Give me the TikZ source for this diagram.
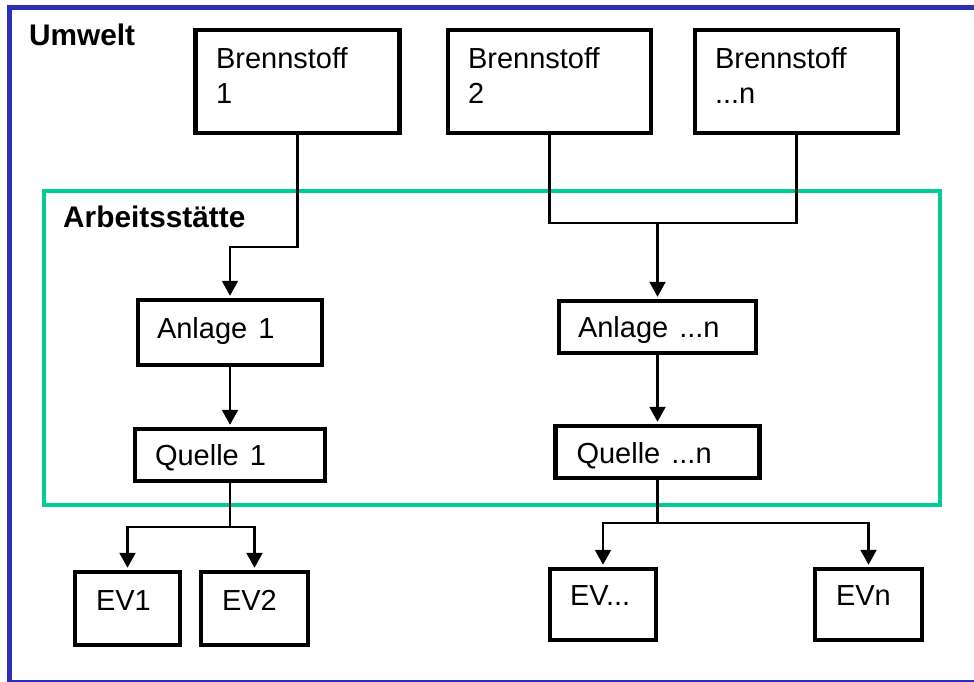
\documentclass[tikz,border=0pt]{standalone}
\usepackage{fontspec}
\setmainfont{Liberation Sans}
\usetikzlibrary{calc, positioning, arrows.meta}
\definecolor{UmweltBlue}{RGB}{46, 46, 184}
\definecolor{SiteGreen}{RGB}{0, 204, 153}
\definecolor{InkBlack}{RGB}{0, 0, 0}

\tikzset{
  block/.style={draw=InkBlack, fill=white, line width=4.5pt, align=left, inner ysep=0pt,
    font=\fontsize{29}{35}\selectfont},
  dims/.style n args={4}{text width=#1, inner xsep=#2, text height=#3, text depth=#4},
  flow/.style={draw=InkBlack, line width=2.2pt, -{Triangle[length=15pt,width=16pt]}, shorten >=2pt},
  link/.style={draw=InkBlack, line width=2.2pt},
  area/.style={font=\bfseries\fontsize{29.8}{35}\selectfont, anchor=base west, inner sep=0pt}
}

\begin{document}
\begin{tikzpicture}[x=1pt, y=-1pt]
\clip (0,0) rectangle (974,681);
\draw[UmweltBlue, line width=5pt] (9.5,7.5) rectangle (990,682);
\draw[SiteGreen, line width=4pt] (44,191) rectangle (940,505);
\node[area] (umwelt) at (29,45) {Umwelt};
\node[area] (site) at (63,227) {Arbeitsstätte};

\node[block, dims={163pt}{20.5pt}{38pt}{65pt}] (b1) at (297.5,81.5) {Brennstoff\\1};
\node[block, dims={163pt}{20pt}{38pt}{65pt}] (b2) at (549.5,81.5) {Brennstoff\\2};
\node[block, dims={163pt}{20pt}{38pt}{65pt}] (bn) at (796.5,81.5) {Brennstoff\\...n};

\node[block, dims={146pt}{19pt}{38pt}{27pt}] (anl1) at (230,332.5) {Anlage\hspace{0.38em}1};
\node[block, dims={159pt}{19pt}{36pt}{16pt}] (anln) at (657.5,327) {Anlage\hspace{0.38em}...n};
\node[block, dims={150pt}{20pt}{36pt}{16pt}] (q1) at (230,455) {Quelle\hspace{0.38em}1};
\node[block, dims={162pt}{21pt}{37pt}{15pt}] (qn) at (657.5,452) {Quelle\hspace{0.38em}...n};

\node[block, dims={63pt}{21pt}{38pt}{35pt}] (ev1) at (127.5,608.5) {EV1};
\node[block, dims={65pt}{21pt}{38pt}{35pt}] (ev2) at (254.5,608.5) {EV2};
\node[block, dims={66pt}{20pt}{36pt}{35pt}] (evd) at (603,604.5) {EV...};
\node[block, dims={65pt}{21pt}{36pt}{35pt}] (evn) at (868.5,604.5) {EVn};

\coordinate (j1) at (297.5,247);
\coordinate (j2) at (657.5,223);
\coordinate (s1) at (230,527);
\coordinate (s2) at (657.5,523);

\draw[flow] (b1.south) -- (j1) -| (anl1.north);
\draw[link] (b2.south) |- (j2) -| (bn.south);
\draw[flow] (j2) -- (anln.north);
\draw[flow] (anl1.south) -- (q1.north);
\draw[flow] (anln.south) -- (qn.north);
\draw[link] (q1.south) -- (s1);
\draw[flow] (s1) -| (ev1.north);
\draw[flow] (s1) -| (ev2.north);
\draw[link] (qn.south) -- (s2);
\draw[flow] (s2) -| (evd.north);
\draw[flow] (s2) -| (evn.north);
\end{tikzpicture}
\end{document}
